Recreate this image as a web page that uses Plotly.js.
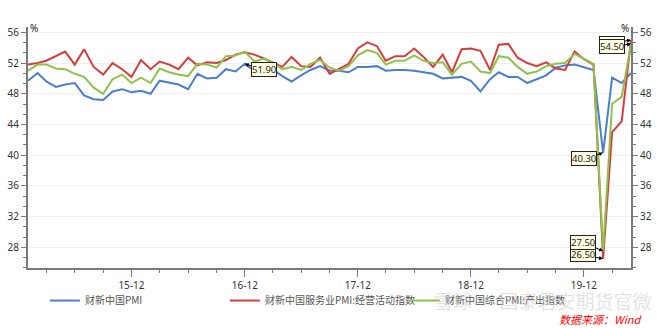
<!DOCTYPE html>
<html>
<head>
<meta charset="utf-8">
<script src="https://cdn.plot.ly/plotly-3.0.1.min.js"></script>
<style>html,body{margin:0;padding:0;background:#fff;}#chart{width:660px;height:328px;}</style>
</head>
<body>
<div id="chart"></div>
<script>
const months = [
'2015-01-01','2015-02-01','2015-03-01','2015-04-01','2015-05-01','2015-06-01','2015-07-01','2015-08-01','2015-09-01','2015-10-01','2015-11-01','2015-12-01',
'2016-01-01','2016-02-01','2016-03-01','2016-04-01','2016-05-01','2016-06-01','2016-07-01','2016-08-01','2016-09-01','2016-10-01','2016-11-01','2016-12-01',
'2017-01-01','2017-02-01','2017-03-01','2017-04-01','2017-05-01','2017-06-01','2017-07-01','2017-08-01','2017-09-01','2017-10-01','2017-11-01','2017-12-01',
'2018-01-01','2018-02-01','2018-03-01','2018-04-01','2018-05-01','2018-06-01','2018-07-01','2018-08-01','2018-09-01','2018-10-01','2018-11-01','2018-12-01',
'2019-01-01','2019-02-01','2019-03-01','2019-04-01','2019-05-01','2019-06-01','2019-07-01','2019-08-01','2019-09-01','2019-10-01','2019-11-01','2019-12-01',
'2020-01-01','2020-02-01','2020-03-01','2020-04-01','2020-05-01'];

const pmiMfg = [
49.7,50.7,49.6,48.9,49.2,49.4,47.8,47.3,47.2,48.3,48.6,48.2,
48.4,48.0,49.7,49.4,49.2,48.6,50.6,50.0,50.1,51.2,50.9,51.9,
51.0,51.7,51.2,50.3,49.6,50.4,51.1,51.6,51.0,51.0,50.8,51.5,
51.5,51.6,51.0,51.1,51.1,51.0,50.8,50.6,50.0,50.1,50.2,49.7,
48.3,49.9,50.8,50.2,50.2,49.4,49.9,50.4,51.4,51.7,51.8,51.5,
51.1,40.3,50.1,49.4,50.7];

const pmiServices = [
51.8,52.0,52.3,52.9,53.5,51.8,53.8,51.5,50.5,52.0,51.2,50.2,
52.4,51.2,52.2,51.8,51.2,52.7,51.7,52.1,52.0,52.4,53.1,53.4,
53.1,52.6,52.1,51.5,52.8,51.6,51.5,52.7,50.6,51.2,51.9,53.9,
54.7,54.2,52.3,52.9,52.9,53.9,52.8,51.5,53.1,50.8,53.8,53.9,
53.6,51.1,54.4,54.5,52.7,52.0,51.6,52.1,51.3,51.1,53.5,52.5,
51.8,26.5,43.0,44.4,55.0];

const pmiComposite = [
51.0,51.8,51.8,51.3,51.2,50.6,50.2,48.8,48.0,49.9,50.5,49.4,
50.1,49.4,51.3,50.8,50.5,50.3,51.9,51.8,51.4,52.9,53.0,53.5,
52.2,52.6,52.1,51.2,51.5,51.1,51.9,52.4,51.4,51.0,51.6,53.0,
53.7,53.3,51.8,52.3,52.3,53.0,52.3,52.0,52.1,50.5,51.9,52.2,
50.9,50.7,52.9,52.7,51.5,50.6,50.9,51.6,51.9,52.0,53.2,52.6,
51.9,27.5,46.7,47.6,54.5];

const seriesNames = ['财新中国PMI','财新中国服务业PMI:经营活动指数','财新中国综合PMI:产出指数'];
const seriesColors = ['#4a7fcc','#d43d3d','#8fc24c'];

// labelled points: [series index, month]
const labelled = [
  [0,'2016-12-01'],[0,'2020-02-01'],[1,'2020-02-01'],[2,'2020-02-01'],[1,'2020-05-01'],[2,'2020-05-01']
];
const labelOffsets = [[19,6],[-19,6],[-20,-4],[-20,-9],[-19,3],[-19,2.5]];

const allSeries = [pmiMfg, pmiServices, pmiComposite];
const traces = allSeries.map((ys,i)=>({
  type:'scatter', mode:'lines', x:months, y:ys, name:seriesNames[i],
  line:{color:seriesColors[i], width:2}, hoverinfo:'skip'
}));
// invisible trace for right axis
traces.push({type:'scatter', mode:'lines', x:months, y:pmiMfg, yaxis:'y2', showlegend:false, line:{width:0}, opacity:0, hoverinfo:'skip'});

const annotations = [
  {xref:'paper', yref:'paper', x:0, y:1, xanchor:'left', yanchor:'middle', xshift:0, yshift:-1, text:'%', showarrow:false, font:{size:10, color:'#222'}},
  {xref:'paper', yref:'paper', x:1, y:1, xanchor:'right', yanchor:'middle', xshift:0, yshift:-1, text:'%', showarrow:false, font:{size:10, color:'#222'}},
  {xref:'paper', yref:'paper', x:0.670, y:-0.135, xanchor:'left', yanchor:'middle', text:'雪球 · 国泰君安期货官微', showarrow:false, font:{size:19, color:'rgba(200,200,200,0.5)', family:'Noto Sans CJK SC'}},
  {xref:'paper', yref:'paper', x:1.02, y:-0.21, xanchor:'right', yanchor:'middle', text:'<i>数据来源：Wind</i>', showarrow:false, font:{size:11, color:'#ff0000', family:'Noto Sans CJK SC'}}
].concat(labelled.map((p,k)=>{
  const idx = months.indexOf(p[1]);
  const v = allSeries[p[0]][idx];
  return {x:p[1], y:v, xref:'x', yref:'y', text:v.toFixed(2),
    showarrow:true, arrowhead:2, arrowsize:0.8, arrowwidth:1, arrowcolor:'#000',
    ax:labelOffsets[k][0], ay:labelOffsets[k][1],
    bgcolor:'#ffffe1', bordercolor:'#222', borderwidth:1, borderpad:0,
    font:{size:9.5, color:'#222', family:'Noto Sans, sans-serif'}};
}));

const axisY = {
  range:[25.3,56.7], dtick:4, tick0:0, showgrid:true, gridcolor:'#efefef', gridwidth:1,
  showline:true, linecolor:'#7a7a7a', linewidth:2, ticks:'outside', ticklen:5, tickwidth:1, tickcolor:'#7a7a7a',
  minor:{dtick:4/3, tick0:28, ticks:'outside', ticklen:3, tickcolor:'#7a7a7a', showgrid:false},
  tickfont:{size:10, color:'#333'}, zeroline:false, fixedrange:true
};

const layout = {
  width:660, height:328,
  margin:{l:28, r:29, t:27, b:60},
  paper_bgcolor:'#fff', plot_bgcolor:'#fff',
  font:{family:'Noto Sans, Noto Sans CJK SC, sans-serif', size:10, color:'#333'},
  showlegend:true,
  legend:{orientation:'h', x:0.028, xanchor:'left', y:-0.135, yanchor:'middle',
    entrywidth:135, entrywidthmode:'pixels', itemwidth:30,
    font:{size:10, color:'#555', family:'Noto Sans CJK SC'}, bgcolor:'rgba(0,0,0,0)'},
  xaxis:{type:'date', range:['2015-01-01','2020-05-01'], tickformat:'%y-%m', dtick:'M12', tick0:'2015-12-01',
    showgrid:false, showline:true, linecolor:'#7a7a7a', linewidth:2, ticks:'outside', ticklen:7, tickcolor:'#7a7a7a',
    minor:{dtick:'M3', tick0:'2015-03-01', ticks:'outside', ticklen:3, tickcolor:'#7a7a7a', showgrid:false},
    tickfont:{size:10, color:'#333'}, zeroline:false},
  yaxis:Object.assign({}, axisY, {side:'left'}),
  yaxis2:Object.assign({}, axisY, {side:'right', overlaying:'y', showgrid:false}),
  annotations:annotations
};

Plotly.newPlot('chart', traces, layout, {staticPlot:true, displayModeBar:false});
</script>
</body>
</html>
